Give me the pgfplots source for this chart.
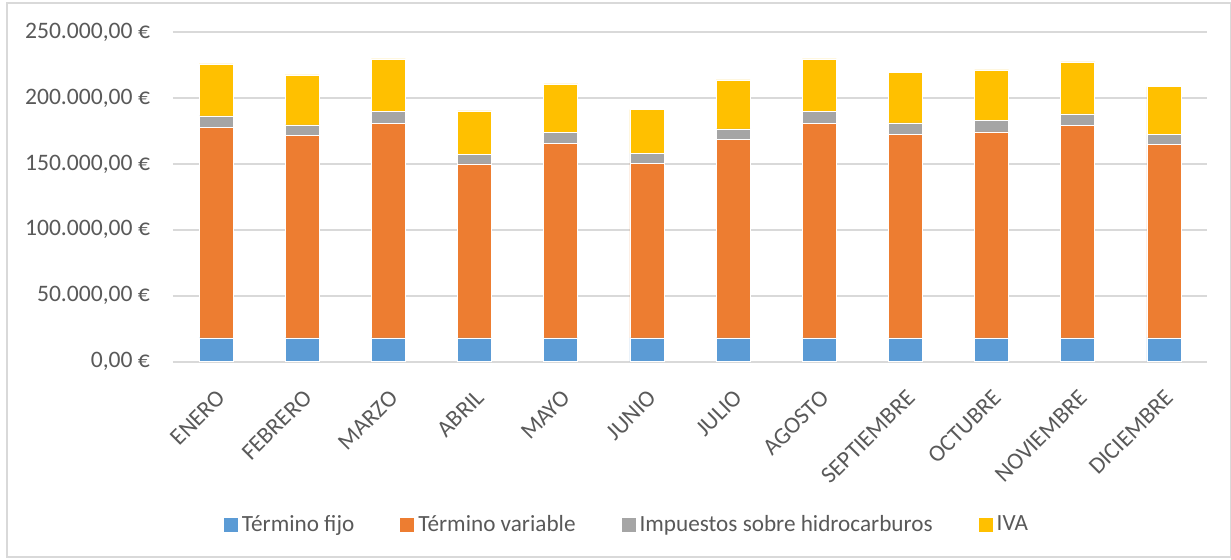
\documentclass[border=0pt]{standalone}
\usepackage{pgfplots}
\pgfplotsset{compat=1.18}
\usepackage{fontspec}
\setmainfont{Carlito}
\definecolor{cBlue}{HTML}{5B9BD5}
\definecolor{cOrange}{HTML}{ED7D31}
\definecolor{cGray}{HTML}{A5A5A5}
\definecolor{cYellow}{HTML}{FFC000}
\definecolor{cText}{HTML}{595959}
\definecolor{cGrid}{HTML}{D9D9D9}
\begin{document}
\begin{tikzpicture}
\path[use as bounding box] (-86.5pt,-99.15pt) rectangle (529pt,180.85pt);
\begin{axis}[
  at={(0,0)}, anchor=south west,
  scale only axis,
  width=517pt, height=164.85pt,
  ybar stacked, bar width=17pt,
  xmin=-0.5, xmax=11.5,
  ymin=0, ymax=250000,
  xtick={0,...,11},
  xticklabels={ENERO,FEBRERO,MARZO,ABRIL,MAYO,JUNIO,JULIO,AGOSTO,SEPTIEMBRE,OCTUBRE,NOVIEMBRE,DICIEMBRE},
  ytick={0,50000,100000,150000,200000,250000},
  yticklabels={{0,00 €},{50.000,00 €},{100.000,00 €},{150.000,00 €},{200.000,00 €},{250.000,00 €}},
  scaled y ticks=false,
  ymajorgrids, grid style={cGrid, line width=0.9pt},
  axis line style={draw=none},
  major tick length=0pt,
  tick label style={font=\fontsize{11.8}{14}\selectfont, text=cText},
  yticklabel style={xshift=-8pt},
  xticklabel style={rotate=45, anchor=north east, yshift=-6pt, xshift=-6pt},
  legend style={draw=none, fill=none, at={(axis description cs:0.44,-0.495)}, anchor=center,
    legend columns=4, font=\fontsize{11.6}{14}\selectfont, text=cText,
    /tikz/every even column/.append style={column sep=21pt},
    /tikz/every odd column/.append style={column sep=0pt},
    inner sep=0pt},
  legend image code/.code={\fill[#1,draw=none] (0pt,-3.5pt) rectangle (7pt,3.5pt);},
  legend cell align=left,
  every axis plot/.append style={draw=white, line width=0.3pt},
]
\addplot[fill=cBlue] coordinates {(0,18000) (1,18000) (2,18000) (3,18000) (4,18000) (5,18000) (6,18000) (7,18000) (8,18000) (9,18000) (10,18000) (11,18000)};
\addplot[fill=cOrange] coordinates {(0,159600) (1,153500) (2,162600) (3,132000) (4,147450) (5,132500) (6,150500) (7,162600) (8,154250) (9,156250) (10,161100) (11,146700)};
\addplot[fill=cGray] coordinates {(0,8760) (1,8050) (2,9100) (3,7100) (4,8350) (5,7400) (6,8000) (7,9100) (8,8810) (9,8620) (10,8780) (11,7570)};
\addplot[fill=cYellow] coordinates {(0,39400) (1,37870) (2,39850) (3,33050) (4,36800) (5,33300) (6,37150) (7,39850) (8,38180) (9,38330) (10,39390) (11,36330)};
\legend{Término fijo,Término variable,Impuestos sobre hidrocarburos,IVA}
\end{axis}
\draw[cGrid, line width=0.7pt] (-83pt,-97.65pt) rectangle (528.75pt,179.35pt);
\end{tikzpicture}
\end{document}
